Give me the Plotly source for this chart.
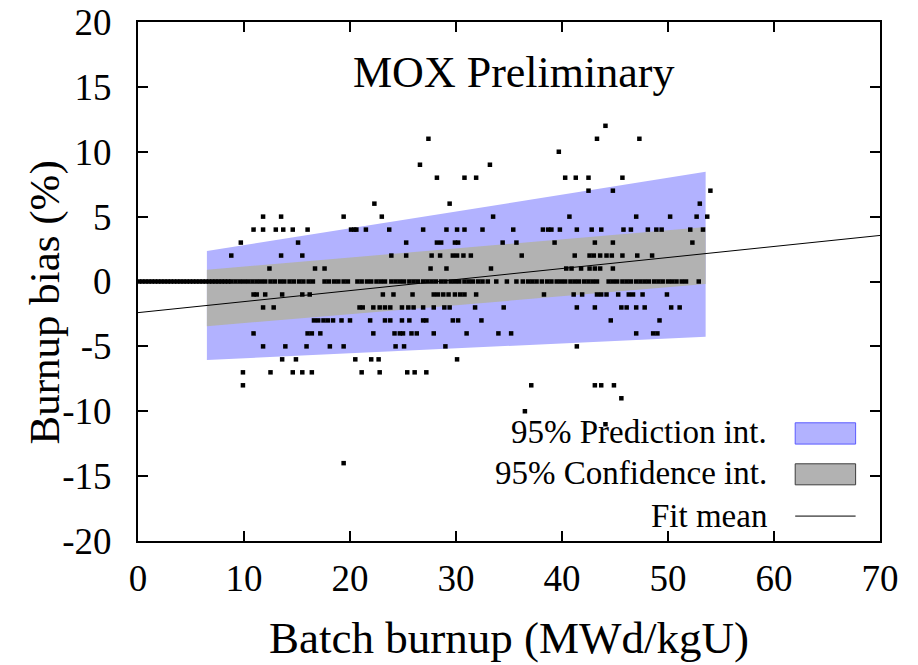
import plotly.graph_objects as go

# ---- data (y values are integer % biases) ----
row_p12 = [44.1]
row_p11 = [27.4, 43.3, 47.3]
row_p10 = [39.7]
row_p9 = [26.6, 33.2]
row_p8 = [28.2, 30.8, 31.9, 40.3, 41.3, 42.5, 45.7]
row_p7 = [42.5, 44.8, 54.0]
row_p6 = [22.3, 29.4, 53.0]
row_p5 = [11.8, 13.5, 19.4, 23.0, 33.5, 40.7, 47.0, 50.2, 52.7, 53.7]
row_p4 = [10.9, 11.8, 13.0, 13.7, 14.6, 16.0, 20.1, 20.4, 20.6, 21.5, 23.7, 26.9,
          29.1, 30.1, 30.8, 32.5, 35.4, 38.2, 38.7, 39.0, 39.8, 41.4, 42.8, 43.7,
          45.8, 46.5, 48.1, 48.9, 49.4, 52.1, 53.3]
row_p3 = [9.7, 15.1, 25.3, 28.2, 28.6, 29.9, 30.2, 34.4, 35.7, 39.3, 43.1, 44.8, 52.3]
row_p2 = [8.8, 13.5, 15.5, 23.9, 25.3, 27.7, 28.5, 29.7, 30.1, 30.7, 31.4, 36.2,
          41.2, 42.6, 43.0, 43.6, 44.2, 44.7, 45.7, 47.1, 48.5]
row_p1 = [12.4, 16.7, 17.6, 27.6, 29.1, 33.3, 40.4, 40.9, 41.8, 42.6, 43.1, 43.6, 44.8]
row_0 = [0.1, 0.4, 0.7, 1.0, 1.3, 1.6, 1.9, 2.2, 2.5, 2.8, 3.1, 3.4, 3.7, 4.0, 4.3,
         4.6, 4.9, 5.2, 5.5, 5.8, 6.1, 6.4, 6.7, 7.0, 7.3, 7.6, 7.9, 8.2, 8.5, 8.8,
         9.2, 9.6, 10.0, 10.4, 10.8, 11.2, 11.6,
         12.0, 12.5, 12.9, 13.4, 13.8, 14.3, 14.7, 15.2, 15.6, 16.1, 16.5, 17.6,
         18.0, 18.5, 18.9, 19.4, 19.8, 20.7, 21.1, 21.6, 22.0, 22.5, 22.9, 23.3,
         23.9, 24.3, 24.7, 25.1, 25.6, 26.0, 26.4, 26.9, 27.3, 27.7, 28.1, 28.6,
         29.0, 29.5, 29.9, 30.3, 30.8, 31.2, 31.6, 32.1, 32.5, 33.0, 33.8, 34.8,
         35.7, 36.3, 36.8, 37.2, 37.6, 38.1, 38.6, 39.0, 39.5, 39.9, 40.3, 40.8,
         41.2, 41.6, 42.1, 42.5, 42.9, 43.3, 44.4, 44.8, 45.2, 45.7, 46.1, 46.5,
         47.0, 47.4, 47.8, 48.2, 48.7, 49.1, 49.5, 50.0, 50.4, 50.8, 51.3, 51.7,
         52.9]
row_m1 = [10.9, 11.2, 12.0, 13.6, 15.5, 16.2, 23.1, 24.1, 25.9, 27.9, 28.3, 28.8,
          29.3, 29.9, 30.4, 30.8, 31.9, 38.3, 41.1, 41.9, 43.3, 43.7, 44.2, 45.3,
          46.3, 46.7, 47.6, 49.9]
row_m2 = [11.8, 12.8, 20.9, 21.2, 22.2, 22.8, 23.3, 23.8, 24.9, 25.5, 26.0, 26.9,
          27.9, 28.9, 29.4, 31.8, 34.5, 41.4, 43.1, 45.6, 46.1, 47.0, 47.8, 50.3, 51.1]
row_m3 = [16.6, 17.0, 17.5, 17.9, 18.4, 19.2, 20.0, 21.9, 23.3, 23.8, 24.9, 25.6,
          26.9, 27.2, 29.7, 30.2, 32.4, 44.6, 49.2]
row_m4 = [10.9, 16.0, 16.4, 17.2, 22.2, 24.2, 24.7, 25.0, 25.8, 26.3, 27.9, 31.0,
          34.0, 35.2, 47.0, 48.6, 49.0]
row_m5 = [11.8, 13.9, 15.9, 18.1, 19.4, 24.3, 25.1, 29.0, 41.4]
row_m6 = [13.6, 14.9, 20.5, 22.0, 22.7, 30.1]
row_m7 = [9.9, 12.5, 14.6, 15.5, 16.4, 21.1, 22.8, 25.4, 26.1, 27.2]
row_m8 = [9.9, 37.1, 43.1, 43.7, 44.9]
row_m9 = [45.6]
row_m10 = [36.5]
row_m11 = [44.1]
row_m14 = [19.4]

rows = {12: row_p12, 11: row_p11, 10: row_p10, 9: row_p9, 8: row_p8, 7: row_p7,
        6: row_p6, 5: row_p5, 4: row_p4, 3: row_p3, 2: row_p2, 1: row_p1, 0: row_0,
        -1: row_m1, -2: row_m2, -3: row_m3, -4: row_m4, -5: row_m5, -6: row_m6,
        -7: row_m7, -8: row_m8, -9: row_m9, -10: row_m10, -11: row_m11, -14: row_m14}

band_x = [6.5, 53.55]
pred_upper = [2.35, 8.45]
pred_lower = [-6.05, -4.25]
conf_upper = [0.9, 4.2]
conf_lower = [-3.45, -0.2]

fit_x = [0, 70]
fit_y = [-2.4, 3.55]

legend_labels = ["95% Prediction int.", "95% Confidence int.", "Fit mean"]

x_ticks = [0, 10, 20, 30, 40, 50, 60, 70]
x_tick_labels = ["0", "10", "20", "30", "40", "50", "60", "70"]
y_ticks = [-20, -15, -10, -5, 0, 5, 10, 15, 20]
y_tick_labels = ["-20", "-15", "-10", "-5", "0", "5", "10", "15", "20"]

pts_x, pts_y = [], []
for yv, xs in rows.items():
    for xv in xs:
        pts_x.append(xv)
        pts_y.append(yv)

FONT = "Liberation Serif"
BLUE = "rgb(178,178,255)"
GREY = "rgb(178,178,178)"

fig = go.Figure()
fig.add_trace(go.Scatter(x=band_x, y=pred_lower, mode="lines", line=dict(width=0),
                         hoverinfo="skip", showlegend=False))
fig.add_trace(go.Scatter(x=band_x, y=pred_upper, mode="lines", line=dict(width=0),
                         fill="tonexty", fillcolor=BLUE, hoverinfo="skip", showlegend=False))
fig.add_trace(go.Scatter(x=band_x, y=conf_lower, mode="lines", line=dict(width=0),
                         hoverinfo="skip", showlegend=False))
fig.add_trace(go.Scatter(x=band_x, y=conf_upper, mode="lines", line=dict(width=0),
                         fill="tonexty", fillcolor=GREY, hoverinfo="skip", showlegend=False))
fig.add_trace(go.Scatter(x=fit_x, y=fit_y, mode="lines", line=dict(color="black", width=1),
                         showlegend=False))
fig.add_trace(go.Scatter(x=pts_x, y=pts_y, mode="markers",
                         marker=dict(symbol="square", size=4.5, color="black"),
                         showlegend=False))

# manual legend (text on the left, swatch on the right)
leg_text_y = [-11.6, -14.76, -18.1]
for lab, yy in zip(legend_labels, leg_text_y):
    fig.add_annotation(x=59.5, y=yy, xref="x", yref="y", text=lab, showarrow=False,
                       xanchor="right", yanchor="middle",
                       font=dict(family=FONT, size=33, color="black"))
fig.add_shape(type="rect", x0=62.0, x1=67.7, y0=-12.53, y1=-10.89,
              xref="x", yref="y", fillcolor=BLUE, line=dict(color="rgb(90,90,255)", width=1))
fig.add_shape(type="rect", x0=62.0, x1=67.7, y0=-15.67, y1=-14.05,
              xref="x", yref="y", fillcolor=GREY, line=dict(color="rgb(60,60,60)", width=1))
fig.add_shape(type="line", x0=62.0, x1=67.7, y0=-18.08, y1=-18.08,
              xref="x", yref="y", line=dict(color="black", width=1))

fig.add_annotation(x=35.4, y=16.1, xref="x", yref="y", text="MOX Preliminary",
                   showarrow=False, font=dict(family=FONT, size=44, color="black"))

# axis titles as annotations (precise placement)
fig.add_annotation(x=0.5, y=-0.186, xref="paper", yref="paper", xanchor="center",
                   yanchor="middle", text="Batch burnup (MWd/kgU)", showarrow=False,
                   font=dict(family=FONT, size=45, color="black"))
fig.add_annotation(x=-0.125, y=0.46, xref="paper", yref="paper", xanchor="center",
                   yanchor="middle", text="Burnup bias (%)", showarrow=False,
                   textangle=-90, font=dict(family=FONT, size=43, color="black"))

axis_common = dict(showline=True, linecolor="black", linewidth=2, mirror="ticks",
                   ticks="inside", ticklen=10, tickwidth=1.5, tickcolor="black",
                   showgrid=False, zeroline=False, automargin=False,
                   tickfont=dict(family=FONT, size=37, color="black"))
fig.update_xaxes(range=[0, 70], tickvals=x_ticks, ticktext=x_tick_labels,
                 ticklabelstandoff=4, **axis_common)
fig.update_yaxes(range=[-20, 20], tickvals=y_ticks, ticktext=y_tick_labels,
                 ticklabelstandoff=17, **axis_common)

fig.update_layout(width=918, height=665, autosize=False,
                  margin=dict(l=138, r=38, t=22, b=124),
                  plot_bgcolor="white", paper_bgcolor="white")

# remove the page's default 8 px body margin so the figure fills the window exactly
fig.write_html("out.html", config={"displayModeBar": False},
               post_script="document.body.style.margin='0';")
